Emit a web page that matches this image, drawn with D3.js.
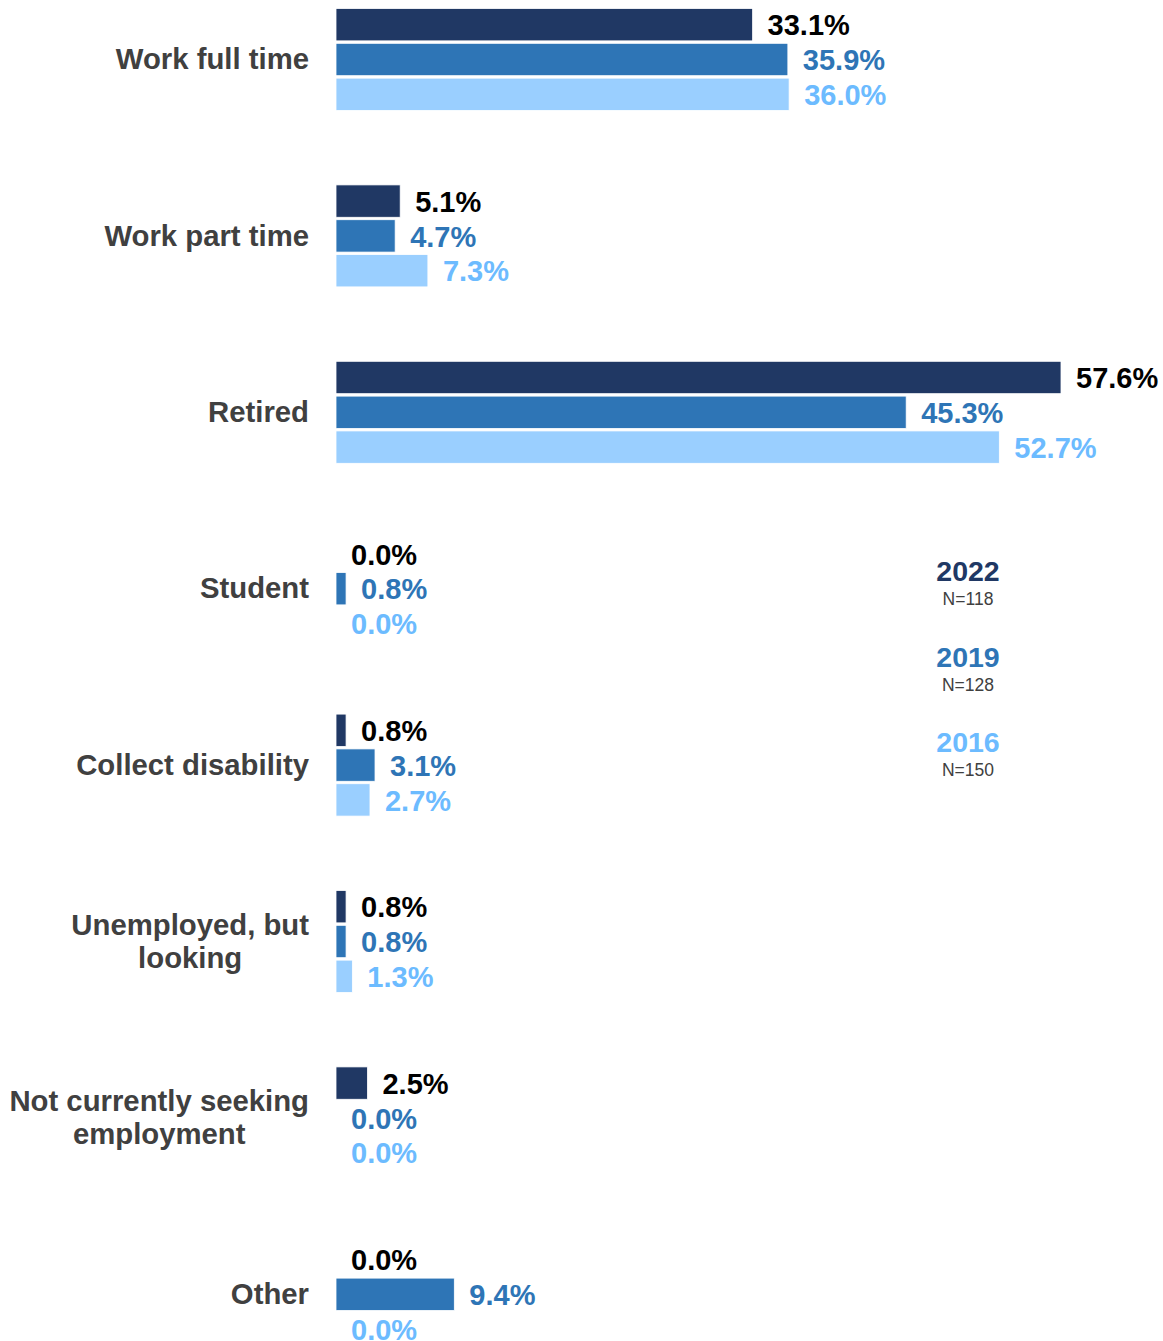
<!DOCTYPE html>
<html><head><meta charset="utf-8">
<script src="https://cdn.jsdelivr.net/npm/d3@7"></script>
<style>body{margin:0;background:#fff}svg{display:block}</style>
</head><body>
<svg id="chart" width="1163" height="1341"></svg>
<script>
const categories = [["Work full time"],["Work part time"],["Retired"],["Student"],["Collect disability"],["Unemployed, but","looking"],["Not currently seeking","employment"],["Other"]];
const seriesNames = ["2022","2019","2016"];
const seriesN = ["N=118","N=128","N=150"];
const values2022 = [33.1, 5.1, 57.6, 0.0, 0.8, 0.8, 2.5, 0.0];
const values2019 = [35.9, 4.7, 45.3, 0.8, 3.1, 0.8, 0.0, 9.4];
const values2016 = [36.0, 7.3, 52.7, 0.0, 2.7, 1.3, 0.0, 0.0];
const seriesValues = [values2022, values2019, values2016];

const barColors = ["#203864","#2E75B6","#9ACFFF"];
const labelColors = ["#000000","#2E75B6","#6CBBFF"];
const legendColors = ["#203864","#2E75B6","#6CBBFF"];
const font = "'Liberation Sans', Arial, sans-serif";

const svg = d3.select("#chart");
const x = d3.scaleLinear().domain([0, 57.6]).range([336, 1061]);
const step = 176.4;
const y = d3.scaleBand().domain(d3.range(categories.length))
  .range([59.5 - step/2, 59.5 + step*(categories.length - 0.5)]).padding(0);
const inner = d3.scaleBand().domain(d3.range(3)).range([-51, 51]).paddingInner(0.07);

const g = svg.append("g");
categories.forEach((cat, i) => {
  const cy = y(i) + y.bandwidth()/2;
  const grp = g.append("g").attr("transform", `translate(0,${cy})`);
  seriesValues.forEach((vals, s) => {
    const v = vals[i];
    const by = inner(s);
    if (v > 0) {
      grp.append("rect").attr("x", x(0)).attr("y", by)
        .attr("width", x(v) - x(0)).attr("height", inner.bandwidth())
        .attr("fill", barColors[s]).attr("stroke", "#ffffff").attr("stroke-width", 0.8);
    }
    grp.append("text").attr("x", x(v) + 15).attr("y", by + inner.bandwidth()/2 + 0.5)
      .attr("dy", "0.35em").attr("fill", labelColors[s])
      .attr("font-family", font).attr("font-weight", "bold").attr("font-size", 29)
      .text(v.toFixed(1) + "%");
  });
  // category label
  const fs = 29.3, lh = 33;
  const t = grp.append("text").attr("font-family", font).attr("font-weight", "bold")
    .attr("font-size", fs).attr("fill", "#404040").attr("text-anchor", "middle");
  const tspans = cat.map((line, k) => t.append("tspan").text(line)
    .attr("dy", k === 0 ? (-(cat.length - 1) * lh / 2) + 0.3*fs + 1 : lh));
  let maxW = 0;
  tspans.forEach(ts => { maxW = Math.max(maxW, ts.node().getComputedTextLength()); });
  const cx = 309 - maxW / 2;
  tspans.forEach(ts => ts.attr("x", cx));
});

// legend
const legY = d3.scalePoint().domain(seriesNames).range([571, 742]);
seriesNames.forEach((nm, s) => {
  svg.append("text").attr("x", 968).attr("y", legY(nm)).attr("dy", "0.36em")
    .attr("text-anchor", "middle").attr("font-family", font).attr("font-weight", "bold")
    .attr("font-size", 28.5).attr("fill", legendColors[s]).text(nm);
  svg.append("text").attr("x", 968).attr("y", legY(nm) + 28).attr("dy", "0.36em")
    .attr("text-anchor", "middle").attr("font-family", font)
    .attr("font-size", 17.5).attr("fill", "#404040").text(seriesN[s]);
});
</script>
</body></html>
